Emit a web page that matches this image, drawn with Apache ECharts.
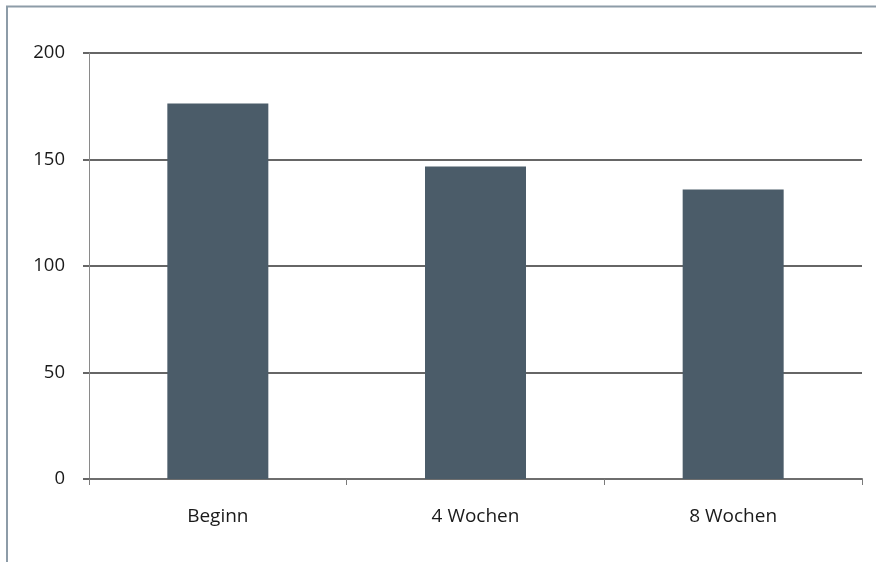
<!DOCTYPE html>
<html>
<head>
<meta charset="utf-8">
<script src="https://cdn.jsdelivr.net/npm/echarts@6/dist/echarts.min.js"></script>
<style>
html,body{margin:0;padding:0;background:#fff;}
#chart{width:876px;height:562px;}
</style>
</head>
<body>
<div id="chart"></div>
<script>
var categories = ['Beginn', '4 Wochen', '8 Wochen'];
var values = [176.3, 146.7, 135.9];
var yTicks = [0, 50, 100, 150, 200];

var chart = echarts.init(document.getElementById('chart'), null, {renderer: 'canvas'});
chart.setOption({
  animation: false,
  backgroundColor: '#ffffff',
  textStyle: {fontFamily: 'Open Sans'},
  graphic: [
    {type: 'line', shape: {x1: 7, y1: 6, x2: 7, y2: 562}, style: {stroke: '#8d9ca8', lineWidth: 2}},
    {type: 'line', shape: {x1: 6, y1: 6.5, x2: 876, y2: 6.5}, style: {stroke: '#8d9ca8', lineWidth: 2}}
  ],
  grid: {left: 89, right: 14, top: 53, bottom: 83, containLabel: false},
  xAxis: {
    type: 'category',
    data: categories,
    axisLine: {show: true, lineStyle: {color: '#6e6e6e', width: 2}},
    axisTick: {show: true, alignWithLabel: false, length: 6, lineStyle: {color: '#7a7a7a', width: 1}},
    axisLabel: {color: '#1a1a1a', fontSize: 19, margin: 28, fontFamily: 'Open Sans'},
    splitLine: {show: false}
  },
  yAxis: {
    type: 'value',
    min: yTicks[0],
    max: yTicks[yTicks.length - 1],
    interval: yTicks[1] - yTicks[0],
    axisLine: {show: true, lineStyle: {color: '#8a8a8a', width: 1}},
    axisTick: {show: true, length: 6, lineStyle: {color: '#666666', width: 2}},
    axisLabel: {color: '#1a1a1a', fontSize: 18.5, margin: 24, fontFamily: 'Open Sans'},
    splitLine: {show: true, lineStyle: {color: '#666666', width: 2}}
  },
  series: [{
    type: 'bar',
    data: values,
    barWidth: 101,
    itemStyle: {color: '#4b5c69'}
  }]
});
</script>
</body>
</html>
